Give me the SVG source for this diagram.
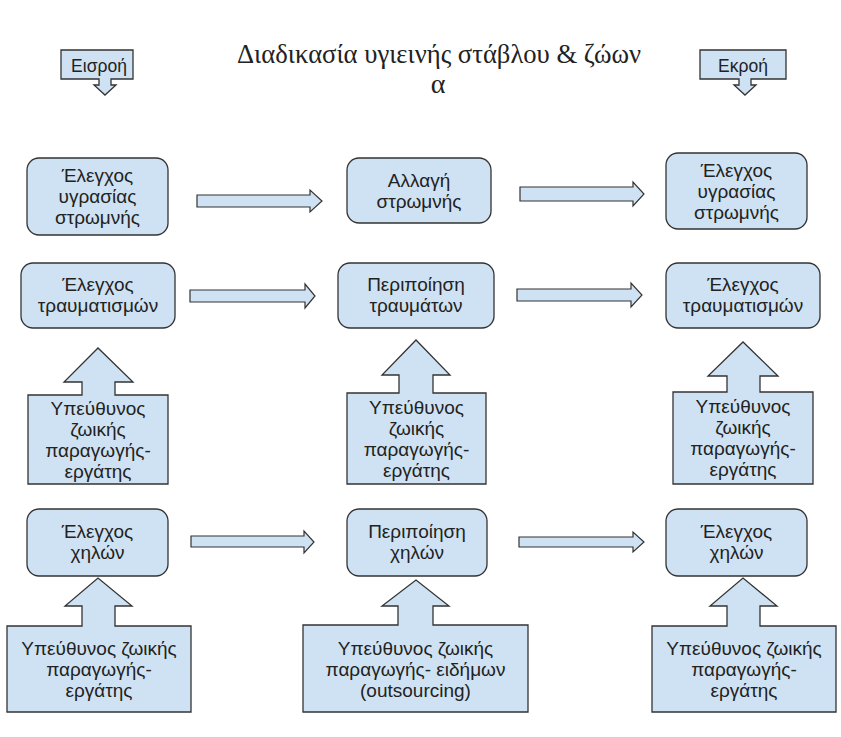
<svg xmlns="http://www.w3.org/2000/svg" width="841" height="737" viewBox="0 0 841 737">
<style>
.box{fill:#cfe2f3;stroke:#333;stroke-width:1.3}
.arr{fill:#cfe2f3;stroke:#333;stroke-width:1.2}
.t{font-family:"Liberation Sans",Arial,sans-serif;font-size:19px;fill:#222;text-anchor:middle}
.s{font-size:17.5px}
.title{font-family:"Liberation Serif","Times New Roman",serif;font-size:28px;fill:#222;text-anchor:middle}
</style>
<rect width="841" height="737" fill="#fff"/>
<g id="title">
<text class="title" x="439" y="63" textLength="404" lengthAdjust="spacingAndGlyphs">Διαδικασία υγιεινής στάβλου &amp; ζώων</text>
<text class="title" x="438" y="93">α</text>
</g>
<g id="input">
<path class="box" d="M61,50 H133 V79 H111 V85 H116 L105,95 L94,85 H99 V79 H61 Z"/>
<text class="t s" x="99" y="72">Εισροή</text>
</g>
<g id="output">
<path class="box" d="M700,50 H786 V79 H751 V85 H756 L745,95 L734,85 H739 V79 H700 Z"/>
<text class="t s" x="743" y="72">Εκροή</text>
</g>
<g id="connectors">
<path class="arr" d="M197,195 H310 V190 L322,201 L310,212 V207 H197 Z"/>
<path class="arr" d="M520,187 H633 V182 L644,194 L633,206 V201 H520 Z"/>
<path class="arr" d="M190,290 H305 V284 L315,296 L305,308 V302 H190 Z"/>
<path class="arr" d="M517,289 H631 V283 L642,295 L631,307 V301 H517 Z"/>
<path class="arr" d="M191,536 H304 V531 L314,542 L304,553 V547 H191 Z"/>
<path class="arr" d="M519,537 H633 V532 L644,542 L633,552 V547 H519 Z"/>
</g>
<g id="n1">
<rect class="box" x="27" y="158" width="141" height="77" rx="12"/>
<text class="t" x="97.5" y="182">Έλεγχος</text>
<text class="t" x="97.5" y="203">υγρασίας</text>
<text class="t" x="97.5" y="224">στρωμνής</text>
</g>
<g id="n2">
<rect class="box" x="347" y="158" width="144" height="65" rx="12"/>
<text class="t" x="419" y="187">Αλλαγή</text>
<text class="t" x="419" y="208">στρωμνής</text>
</g>
<g id="n3">
<rect class="box" x="666" y="153" width="141" height="76" rx="12"/>
<text class="t" x="736.5" y="177">Έλεγχος</text>
<text class="t" x="736.5" y="198">υγρασίας</text>
<text class="t" x="736.5" y="219">στρωμνής</text>
</g>
<g id="n4">
<rect class="box" x="21" y="263" width="154" height="65" rx="12"/>
<text class="t" x="98" y="291">Έλεγχος</text>
<text class="t" x="98" y="312">τραυματισμών</text>
</g>
<g id="n5">
<rect class="box" x="338" y="263" width="156" height="65" rx="12"/>
<text class="t" x="416" y="291">Περιποίηση</text>
<text class="t" x="416" y="312">τραυμάτων</text>
</g>
<g id="n6">
<rect class="box" x="666" y="263" width="154" height="65" rx="12"/>
<text class="t" x="743" y="291">Έλεγχος</text>
<text class="t" x="743" y="312">τραυματισμών</text>
</g>
<g id="n7">
<path class="box" d="M28,395 H82 V382 H64 L98,348 L133,382 H115 V395 H168 V484 H28 Z"/>
<text class="t" x="98" y="415">Υπεύθυνος</text>
<text class="t" x="98" y="436">ζωικής</text>
<text class="t" x="98" y="457">παραγωγής-</text>
<text class="t" x="98" y="478">εργάτης</text>
</g>
<g id="n8">
<path class="box" d="M347,393 H399 V375 H382 L416,340 L450,375 H433 V393 H486 V484 H347 Z"/>
<text class="t" x="416.5" y="414">Υπεύθυνος</text>
<text class="t" x="416.5" y="435">ζωικής</text>
<text class="t" x="416.5" y="456">παραγωγής-</text>
<text class="t" x="416.5" y="477">εργάτης</text>
</g>
<g id="n9">
<path class="box" d="M673,392 H727 V376 H708 L743,342 L778,376 H760 V392 H813 V484 H673 Z"/>
<text class="t" x="743" y="413">Υπεύθυνος</text>
<text class="t" x="743" y="434">ζωικής</text>
<text class="t" x="743" y="455">παραγωγής-</text>
<text class="t" x="743" y="476">εργάτης</text>
</g>
<g id="n10">
<rect class="box" x="27" y="509" width="141" height="67" rx="12"/>
<text class="t" x="97.5" y="538">Έλεγχος</text>
<text class="t" x="97.5" y="559">χηλών</text>
</g>
<g id="n11">
<rect class="box" x="347" y="509" width="140" height="67" rx="12"/>
<text class="t" x="417" y="538">Περιποίηση</text>
<text class="t" x="417" y="559">χηλών</text>
</g>
<g id="n12">
<rect class="box" x="666" y="509" width="141" height="67" rx="12"/>
<text class="t" x="736.5" y="538">Έλεγχος</text>
<text class="t" x="736.5" y="559">χηλών</text>
</g>
<g id="n13">
<path class="box" d="M7,626 H82 V606 H65 L98,578 L132,606 H115 V626 H191 V712 H7 Z"/>
<text class="t" x="99" y="655">Υπεύθυνος ζωικής</text>
<text class="t" x="99" y="676">παραγωγής-</text>
<text class="t" x="99" y="697">εργάτης</text>
</g>
<g id="n14">
<path class="box" d="M303,625 H398 V606 H382 L416,580 L449,606 H433 V625 H528 V712 H303 Z"/>
<text class="t" x="415.5" y="655">Υπεύθυνος ζωικής</text>
<text class="t" x="415.5" y="676">παραγωγής- ειδήμων</text>
<text class="t" x="415.5" y="697">(outsourcing)</text>
</g>
<g id="n15">
<path class="box" d="M652,626 H727 V606 H710 L743,578 L777,606 H760 V626 H836 V712 H652 Z"/>
<text class="t" x="744" y="655">Υπεύθυνος ζωικής</text>
<text class="t" x="744" y="676">παραγωγής-</text>
<text class="t" x="744" y="697">εργάτης</text>
</g>
</svg>
